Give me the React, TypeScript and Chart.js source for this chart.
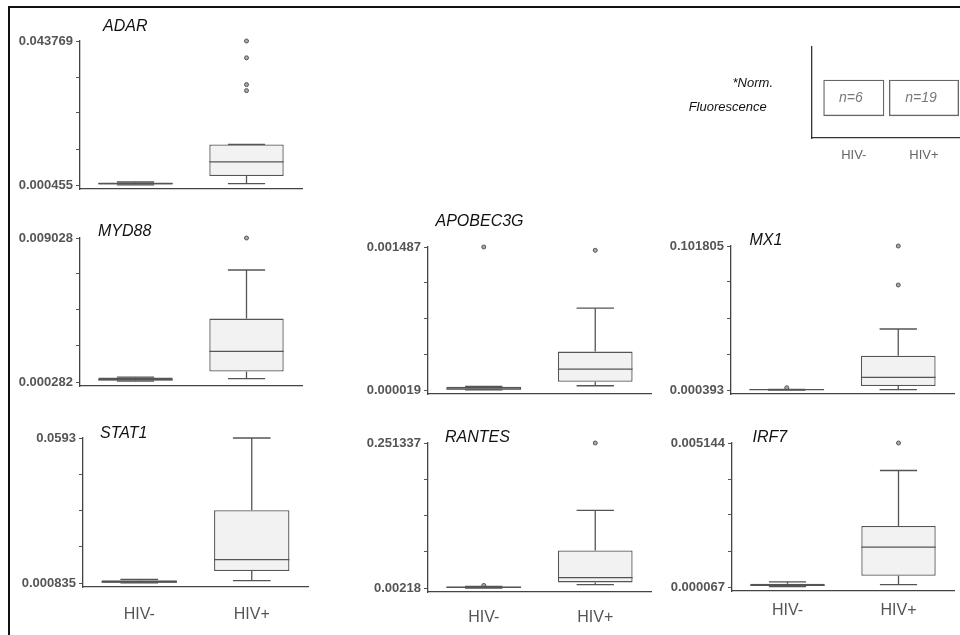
import React, { useEffect, useRef } from 'react';
import { Chart, registerables } from 'chart.js';

Chart.register(...registerables);

const FONT = '"Liberation Sans", Arial, Helvetica, sans-serif';

// ---------- data ----------
const categories = ['HIV-', 'HIV+'];
const genes = ['ADAR', 'MYD88', 'STAT1', 'APOBEC3G', 'RANTES', 'MX1', 'IRF7'];
const axisMin = [0.000455, 0.000282, 0.000835, 0.000019, 0.00218, 0.000393, 0.000067];
const axisMax = [0.043769, 0.009028, 0.0593, 0.001487, 0.251337, 0.101805, 0.005144];
const axisMinLabel = ['0.000455', '0.000282', '0.000835', '0.000019', '0.00218', '0.000393', '0.000067'];
const axisMaxLabel = ['0.043769', '0.009028', '0.0593', '0.001487', '0.251337', '0.101805', '0.005144'];

// HIV- (n=6) box statistics per gene
const negLow = [0.0005, 0.00033, 0.00085, 0.00002, 0.0022, 0.0004, 0.00008];
const negQ1 = [0.0006, 0.00037, 0.0009, 0.000022, 0.0025, 0.00045, 0.0001];
const negMedian = [0.00085, 0.00042, 0.0012, 0.00003, 0.0035, 0.0006, 0.00013];
const negQ3 = [0.0012, 0.00055, 0.0019, 0.000052, 0.0045, 0.0008, 0.00018];
const negHigh = [0.00135, 0.00058, 0.0023, 0.000055, 0.005, 0.0009, 0.00025];
const negOutliers: number[][] = [[], [], [], [0.001487], [0.0066], [0.00201], []];

// HIV+ (n=19) box statistics per gene
const posLow = [0.00085, 0.000488, 0.0018, 0.0000627, 0.00785, 0.0006, 0.000148];
const posQ1 = [0.00318, 0.000914, 0.005673, 0.000103, 0.0118, 0.00321, 0.000464];
const posMedian = [0.00742, 0.002147, 0.01027, 0.000233, 0.01988, 0.00934, 0.001471];
const posQ3 = [0.01266, 0.004133, 0.03015, 0.000413, 0.06679, 0.02455, 0.002219];
const posHigh = [0.01266, 0.007084, 0.0593, 0.00086, 0.13552, 0.04335, 0.004175];
const posOutliers: number[][] = [
  [0.043769, 0.03871, 0.03065, 0.02884],
  [0.009028],
  [],
  [0.001453],
  [0.251337],
  [0.101805, 0.07434],
  [0.005144],
];

// legend schematic
const legendCounts = ['n=6', 'n=19'];
const legendBoxLow = 0.24;
const legendBoxHigh = 0.64;

// ---------- layout (pixel positions of each panel) ----------
const panelLayout = [
  { axisX: 80, axisRight: 303, top: 41, bottom: 189, showX: false, labelPad: 0, titleX: 103, titleY: 25.5 },
  { axisX: 80, axisRight: 303, top: 238, bottom: 386, showX: false, labelPad: 0, titleX: 98, titleY: 231.3 },
  { axisX: 83, axisRight: 308, top: 438, bottom: 587, showX: true, labelPad: 10, titleX: 100, titleY: 432.5 },
  { axisX: 428, axisRight: 652, top: 247, bottom: 394, showX: false, labelPad: 0, titleX: 435.5, titleY: 220.5 },
  { axisX: 428, axisRight: 652, top: 443, bottom: 592, showX: true, labelPad: 8, titleX: 445, titleY: 436.5 },
  { axisX: 731, axisRight: 955, top: 246, bottom: 394, showX: false, labelPad: 0, titleX: 749.5, titleY: 240.3 },
  { axisX: 732, axisRight: 955, top: 443, bottom: 591, showX: true, labelPad: 2, titleX: 752.5, titleY: 437.2 },
];

const LEFT_W = 80;
const TOP_PAD = 20;
const RIGHT_PAD = 4;

function BoxPanel({ i }: { i: number }) {
  const ref = useRef<HTMLCanvasElement>(null);
  const L = panelLayout[i];
  const left = Math.round(L.axisX - LEFT_W);
  const top = Math.round(L.top - TOP_PAD);
  const xH = L.showX ? 40 : 14;
  const width = Math.round(L.axisRight + RIGHT_PAD - left);
  const height = Math.round(L.bottom + xH - top);

  useEffect(() => {
    const H = L.bottom - L.top;
    const range = axisMax[i] - axisMin[i];
    const yMin = axisMin[i] - (range * 4) / (H - 4);
    const stats = [
      { low: negLow[i], q1: negQ1[i], med: negMedian[i], q3: negQ3[i], high: negHigh[i] },
      { low: posLow[i], q1: posQ1[i], med: posMedian[i], q3: posQ3[i], high: posHigh[i] },
    ];
    const outlierPts = [
      ...negOutliers[i].map((v) => ({ x: categories[0], y: v })),
      ...posOutliers[i].map((v) => ({ x: categories[1], y: v })),
    ];
    const whiskerPlugin = {
      id: 'whiskers' + i,
      afterDatasetsDraw(chart: any) {
        const ctx = chart.ctx;
        const ys = chart.scales.y;
        const meta = chart.getDatasetMeta(0);
        ctx.save();
        ctx.strokeStyle = '#555';
        ctx.lineWidth = 1.3;
        const line = (x1: number, y1: number, x2: number, y2: number) => {
          ctx.beginPath();
          ctx.moveTo(x1, y1);
          ctx.lineTo(x2, y2);
          ctx.stroke();
        };
        meta.data.forEach((bar: any, k: number) => {
          const s = stats[k];
          const w = bar.width;
          const x = bar.x;
          const yHigh = ys.getPixelForValue(s.high);
          const yLow = ys.getPixelForValue(s.low);
          const yQ1 = ys.getPixelForValue(s.q1);
          const yQ3 = ys.getPixelForValue(s.q3);
          const yMed = ys.getPixelForValue(s.med);
          line(x, yQ3, x, yHigh);
          line(x, yQ1, x, yLow);
          line(x - w / 4, yHigh, x + w / 4, yHigh);
          line(x - w / 4, yLow, x + w / 4, yLow);
          line(x - w / 2, yMed, x + w / 2, yMed);
        });
        ctx.restore();
      },
    };
    const chart = new Chart(ref.current as HTMLCanvasElement, {
      type: 'bar',
      data: {
        labels: categories,
        datasets: [
          {
            type: 'bar',
            data: [
              [negQ1[i], negQ3[i]],
              [posQ1[i], posQ3[i]],
            ] as any,
            backgroundColor: '#f2f2f2',
            borderColor: '#555',
            borderWidth: 1.3,
            borderSkipped: false,
            barPercentage: 0.67,
            categoryPercentage: 1,
          },
          {
            type: 'line',
            data: outlierPts as any,
            showLine: false,
            clip: false,
            pointRadius: 2,
            pointBackgroundColor: '#aaa',
            pointBorderColor: '#555',
            pointBorderWidth: 1,
          } as any,
        ],
      },
      options: {
        animation: false,
        responsive: false,
        maintainAspectRatio: false,
        events: [],
        layout: { padding: { left: 0, top: TOP_PAD, right: RIGHT_PAD, bottom: 0 } },
        plugins: { legend: { display: false }, tooltip: { enabled: false } },
        scales: {
          x: {
            type: 'category',
            offset: true,
            grid: { display: false },
            border: { display: true, color: '#444', width: 1.3 },
            ticks: {
              display: L.showX,
              font: { size: 16, family: FONT },
              color: '#555',
              padding: L.labelPad,
            },
            afterFit: (s: any) => {
              s.height = xH;
            },
          },
          y: {
            type: 'linear',
            min: yMin,
            max: axisMax[i],
            afterBuildTicks: (s: any) => {
              s.ticks = [0, 1, 2, 3, 4].map((k) => ({ value: axisMin[i] + (range * k) / 4 }));
            },
            ticks: {
              autoSkip: false,
              callback: (_v: any, idx: number) =>
                idx === 0 ? axisMinLabel[i] : idx === 4 ? axisMaxLabel[i] : '',
              font: { size: 13, weight: 'bold', family: FONT },
              color: '#555',
              padding: 3,
            },
            grid: { display: true, drawOnChartArea: false, drawTicks: true, tickLength: 4, color: '#555' },
            border: { display: true, color: '#444', width: 1.3 },
            afterFit: (s: any) => {
              s.width = LEFT_W;
            },
          },
        },
      } as any,
      plugins: [whiskerPlugin],
    });
    return () => chart.destroy();
  }, [i]);

  return (
    <>
      <canvas
        ref={ref}
        width={width}
        height={height}
        style={{ position: 'absolute', left, top, width, height }}
      />
      <div
        style={{
          position: 'absolute',
          left: L.titleX,
          top: L.titleY - 8,
          font: `italic 16px ${FONT}`,
          lineHeight: '16px',
          color: '#111',
          whiteSpace: 'nowrap',
        }}
      >
        {genes[i]}
      </div>
    </>
  );
}

function LegendPanel() {
  const ref = useRef<HTMLCanvasElement>(null);
  const left = 802;
  const top = 37;
  const width = 158;
  const height = 131;
  useEffect(() => {
    const countPlugin = {
      id: 'counts',
      afterDatasetsDraw(chart: any) {
        const ctx = chart.ctx;
        ctx.save();
        ctx.font = `italic 14px ${FONT}`;
        ctx.fillStyle = '#777';
        ctx.textAlign = 'center';
        ctx.textBaseline = 'middle';
        chart.data.datasets.forEach((_d: any, k: number) => {
          const bar = chart.getDatasetMeta(k).data[0];
          ctx.fillText(legendCounts[k], bar.x - 3, (bar.y + bar.base) / 2);
        });
        ctx.restore();
      },
    };
    const common = {
      backgroundColor: 'rgba(0,0,0,0)',
      borderColor: '#666',
      borderWidth: 1.3,
      borderSkipped: false,
      categoryPercentage: 1,
      grouped: false,
    };
    const chart = new Chart(ref.current as HTMLCanvasElement, {
      type: 'bar',
      data: {
        datasets: [
          { ...common, data: [{ x: 1, y: [legendBoxLow, legendBoxHigh] }], barPercentage: 0.869 },
          { ...common, data: [{ x: 2, y: [legendBoxLow, legendBoxHigh] }], barPercentage: 0.997 },
        ] as any,
      },
      options: {
        animation: false,
        responsive: false,
        maintainAspectRatio: false,
        events: [],
        layout: { padding: { left: 10, top: 10, right: 0, bottom: 0 } },
        plugins: { legend: { display: false }, tooltip: { enabled: false } },
        scales: {
          x: {
            type: 'linear',
            offset: false,
            min: 0.4047,
            max: 2.513,
            grid: { display: false },
            border: { display: true, color: '#333', width: 1.3 },
            afterBuildTicks: (s: any) => {
              s.ticks = [{ value: 1 }, { value: 2 }];
            },
            ticks: {
              callback: (v: any) => categories[Math.round(v) - 1],
              font: { size: 13, family: FONT },
              color: '#666',
              padding: 2,
            },
            afterFit: (s: any) => {
              s.height = 30;
            },
          },
          y: {
            type: 'linear',
            min: 0,
            max: 1,
            grid: { display: false },
            ticks: { display: false },
            border: { display: true, color: '#333', width: 1.3 },
            afterFit: (s: any) => {
              s.width = 0;
            },
          },
        },
      } as any,
      plugins: [countPlugin],
    });
    return () => chart.destroy();
  }, []);
  return (
    <canvas
      ref={ref}
      width={width}
      height={height}
      style={{ position: 'absolute', left, top, width, height }}
    />
  );
}

export default function App() {
  return (
    <div
      style={{
        position: 'absolute',
        left: 0,
        top: 0,
        width: 960,
        height: 635,
        overflow: 'hidden',
        background: '#fff',
      }}
    >
      <div
        style={{
          position: 'absolute',
          left: 8,
          top: 6,
          width: 1000,
          height: 1000,
          border: '2px solid #111',
        }}
      />
      {genes.map((_g, i) => (
        <BoxPanel key={i} i={i} />
      ))}
      <LegendPanel />
      <div
        style={{
          position: 'absolute',
          right: 960 - 773,
          top: 82.7 - 7,
          font: `italic 13px ${FONT}`,
          lineHeight: '14px',
          color: '#111',
          whiteSpace: 'nowrap',
        }}
      >
        *Norm.
      </div>
      <div
        style={{
          position: 'absolute',
          right: 960 - 766.7,
          top: 106.7 - 7,
          font: `italic 13px ${FONT}`,
          lineHeight: '14px',
          color: '#111',
          whiteSpace: 'nowrap',
        }}
      >
        Fluorescence
      </div>
    </div>
  );
}
